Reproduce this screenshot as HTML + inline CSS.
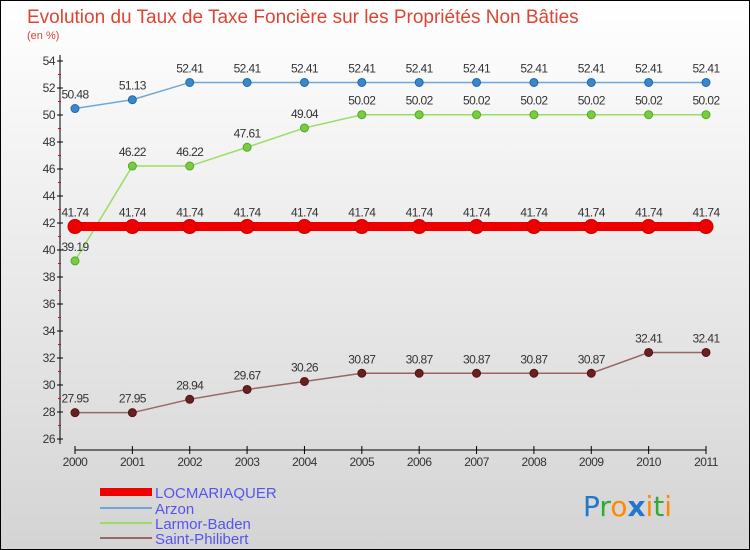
<!DOCTYPE html>
<html><head><meta charset="utf-8"><style>
body{margin:0;}
#c{width:750px;height:550px;position:relative;overflow:hidden;font-family:"Liberation Sans",sans-serif;}
</style></head><body>
<div id="c">
<svg id="s" width="750" height="550" xmlns="http://www.w3.org/2000/svg">
<defs><linearGradient id="bg" x1="0" y1="0" x2="0" y2="1"><stop offset="0" stop-color="#ffffff"/><stop offset="1" stop-color="#d4d4d4"/></linearGradient></defs>
<rect x="0.5" y="0.5" width="749" height="549" fill="url(#bg)" stroke="#000"/>
<text x="27" y="23" font-size="19" fill="#dd4433">Evolution du Taux de Taxe Foncière sur les Propriétés Non Bâties</text>
<text x="27" y="39" font-size="11" fill="#dd4433">(en %)</text>
<g id="axes"></g><g id="series"></g>
<g>
<rect x="100" y="488" width="52" height="8" fill="#ee0000"/>
<text x="155" y="498" font-size="15" fill="#5555ee">LOCMARIAQUER</text>
<line x1="100" y1="508" x2="152" y2="508" stroke="#6fa8d6" stroke-width="2"/>
<text x="155" y="514" font-size="15" fill="#5555ee">Arzon</text>
<line x1="100" y1="523" x2="152" y2="523" stroke="#99dd66" stroke-width="2"/>
<text x="155" y="529" font-size="15" fill="#5555ee">Larmor-Baden</text>
<line x1="100" y1="538" x2="152" y2="538" stroke="#996666" stroke-width="2"/>
<text x="155" y="544" font-size="15" fill="#5555ee">Saint-Philibert</text>
</g>
<text x="583" y="516" font-size="28" font-family="DejaVu Sans"><tspan fill="#2277cc">P</tspan><tspan fill="#33aa33">r</tspan><tspan fill="#ff8800">o</tspan><tspan fill="#2277cc" font-weight="bold">x</tspan><tspan fill="#ff8800">i</tspan><tspan fill="#33aa33">t</tspan><tspan fill="#ff8800">i</tspan></text>
</svg>
</div>
<script>
const years=["2000","2001","2002","2003","2004","2005","2006","2007","2008","2009","2010","2011"];
const yTicks=[26,28,30,32,34,36,38,40,42,44,46,48,50,52,54];
const locmariaquer=[41.74,41.74,41.74,41.74,41.74,41.74,41.74,41.74,41.74,41.74,41.74,41.74];
const arzon=[50.48,51.13,52.41,52.41,52.41,52.41,52.41,52.41,52.41,52.41,52.41,52.41];
const larmor=[39.19,46.22,46.22,47.61,49.04,50.02,50.02,50.02,50.02,50.02,50.02,50.02];
const stphil=[27.95,27.95,28.94,29.67,30.26,30.87,30.87,30.87,30.87,30.87,32.41,32.41];
const NS="http://www.w3.org/2000/svg";
function X(i){return 75+i*(706-75)/11;}
function Y(v){return 439-(v-26)*(439-61)/28;}
function mk(t,a,p){const e=document.createElementNS(NS,t);for(const k in a)e.setAttribute(k,a[k]);p.appendChild(e);return e;}
const ax=document.getElementById('axes');
let l=mk('line',{x1:60,y1:55,x2:60,y2:444,stroke:'#000'},ax);


l=mk('line',{x1:75,y1:450,x2:706,y2:450,stroke:'#000'},ax);


yTicks.forEach((v,i)=>{
  mk('line',{x1:57,y1:Y(v),x2:63,y2:Y(v),stroke:'#000'},ax);
  if(i<yTicks.length-1)mk('line',{x1:58,y1:Y(v+1),x2:61,y2:Y(v+1),stroke:'#e00'},ax);
  const t=mk('text',{x:55,y:Y(v)+4,'font-size':12,fill:'#333','text-anchor':'end','letter-spacing':'-0.5'},ax);
  t.textContent=v;
  
  
});
years.forEach((y,i)=>{
  mk('line',{x1:X(i),y1:446,x2:X(i),y2:454,stroke:'#000'},ax);
  const t=mk('text',{x:X(i),y:466,'font-size':12,fill:'#333','text-anchor':'middle','letter-spacing':'-0.5'},ax);
  t.textContent=y;
  
  
});
const sg=document.getElementById('series');
function series(vals,name,line,dot,lw,r,dotStroke){
  const g=mk('g',{},sg);
  
  
  mk('polyline',{points:vals.map((v,i)=>X(i)+','+Y(v)).join(' '),fill:'none',stroke:line,'stroke-width':lw},g);
  vals.forEach((v,i)=>{
    const c=mk('circle',{cx:X(i),cy:Y(v),r:r,fill:dot,stroke:dotStroke,'stroke-width':1},g);
    
    
    const t=mk('text',{x:X(i),y:Y(v)-10,'font-size':12,fill:'#333','text-anchor':'middle','letter-spacing':'-0.6'},g);
    t.textContent=v.toFixed(2);
    
    
  });
}
series(arzon,'arzon','#6fa8d6','#3a88cc',1.5,4,'#2266aa');
series(larmor,'larmor-baden','#99dd66','#77cc44',1.5,4,'#55aa22');
series(stphil,'saint-philibert','#996666','#662222',1.5,4,'#551111');
series(locmariaquer,'locmariaquer','#ee0000','#ee0000',9,7,'#cc0000');
</script>
</body></html>
